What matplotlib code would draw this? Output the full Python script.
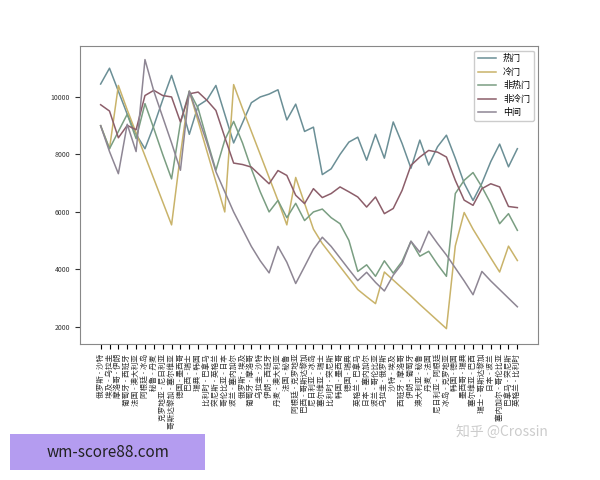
import matplotlib
matplotlib.use("Agg")
import matplotlib.pyplot as plt
from matplotlib.patches import Rectangle

plt.rcParams['font.family'] = ['Noto Sans CJK SC', 'DejaVu Sans']

matches = ["俄罗斯 - 沙特", "埃及 - 乌拉圭", "摩洛哥 - 伊朗", "葡萄牙 - 西班牙", "法国 - 澳大利亚", "阿根廷 - 冰岛",
           "秘鲁 - 丹麦", "克罗地亚 - 尼日利亚", "哥斯达黎加 - 塞尔维亚", "德国 - 墨西哥", "巴西 - 瑞士", "瑞典 - 韩国",
           "比利时 - 巴拿马", "突尼斯 - 英格兰", "哥伦比亚 - 日本", "波兰 - 塞内加尔", "俄罗斯 - 埃及", "葡萄牙 - 摩洛哥",
           "乌拉圭 - 沙特", "伊朗 - 西班牙", "丹麦 - 澳大利亚", "法国 - 秘鲁", "阿根廷 - 克罗地亚", "巴西 - 哥斯达黎加",
           "尼日利亚 - 冰岛", "塞尔维亚 - 瑞士", "比利时 - 突尼斯", "韩国 - 墨西哥", "德国 - 瑞典", "英格兰 - 巴拿马",
           "日本 - 塞内加尔", "波兰 - 哥伦比亚", "乌拉圭 - 俄罗斯", "沙特 - 埃及", "西班牙 - 摩洛哥", "伊朗 - 葡萄牙",
           "澳大利亚 - 秘鲁", "丹麦 - 法国", "尼日利亚 - 阿根廷", "冰岛 - 克罗地亚", "韩国 - 德国", "墨西哥 - 瑞典",
           "塞尔维亚 - 巴西", "瑞士 - 哥斯达黎加", "日本 - 波兰", "塞内加尔 - 哥伦比亚", "巴拿马 - 突尼斯", "英格兰 - 比利时"]

hot = [10450, 11000, 10200, 9400, 8700, 8200, 9000, 9900, 10750, 9800, 8700, 9700, 9900, 10400, 9400, 8400,
       9100, 9800, 10000, 10100, 10250, 9200, 9750, 8800, 8950, 7300, 7500, 8000, 8430, 8600, 7800, 8700,
       7870, 9130, 8380, 7520, 8500, 7630, 8270, 8670, 7870, 7000, 6400, 7000, 7750, 8360, 7570, 8200]
cold = [9000, 8200, 10400, 9550, 8750, 7950, 7150, 6350, 5550, 8000, 10200, 9150, 8100, 7050, 6000, 10430,
        9600, 8800, 8000, 7200, 6400, 5550, 7200, 6300, 5400, 4900, 4500, 4100, 3700, 3300, 3050, 2810,
        3910, 3630, 3350, 3070, 2780, 2500, 2220, 1940, 4820, 5980, 5400, 4900, 4400, 3910, 4810, 4310]
non_hot = [9000, 8200, 8800, 9400, 8550, 9770, 8900, 8000, 7150, 9100, 10200, 9600, 8500, 7450, 8500, 9150,
           8400, 7500, 6700, 6000, 6400, 5800, 6300, 5700, 6000, 6100, 5800, 5590, 5010, 3930, 4160, 3760,
           4300, 3870, 4280, 4980, 4460, 4630, 4170, 3760, 6640, 7100, 7370, 6870, 6290, 5590, 5940, 5360]
non_cold = [9730, 9510, 8580, 9010, 8860, 10050, 10230, 10050, 10000, 9130, 10110, 10170, 9880, 9530, 8600, 7700,
            7650, 7560, 7270, 6980, 7440, 7270, 6580, 6290, 6810, 6500, 6640, 6870, 6700, 6520, 6170, 6520,
            5940, 6120, 6750, 7620, 7910, 8140, 8080, 7910, 7100, 6410, 6230, 6810, 6980, 6870, 6190, 6150]
middle = [9000, 8100, 7330, 9050, 8100, 11300, 10200, 9300, 8400, 7450, 10200, 9300, 8400, 7400, 6700, 6000,
          5400, 4800, 4300, 3880, 4800, 4250, 3510, 4100, 4700, 5120, 4800, 4400, 4000, 3610, 3900, 3550,
          3250, 3800, 4200, 4980, 4600, 5330, 4900, 4500, 4050, 3600, 3120, 3930, 3600, 3300, 3000, 2700]

series = [("热门", hot, "#6b8f96"), ("冷门", cold, "#c9b36a"), ("非热门", non_hot, "#7a9e82"),
          ("非冷门", non_cold, "#8c5e6a"), ("中间", middle, "#8e8694")]

fig = plt.figure(figsize=(6, 4.8), dpi=100)
ax = fig.add_axes([0.133, 0.283, 0.764, 0.621])
x = list(range(len(matches)))
for name, vals, c in series:
    ax.plot(x, vals, color=c, lw=1.1, label=name)
ax.set_xticks(x)
ax.set_xticklabels(matches, rotation=90, fontsize=5.5, color="#333333")
ax.set_yticks([2000, 4000, 6000, 8000, 10000])
ax.tick_params(axis='y', labelsize=5, colors="#333333")
ax.set_ylim(1400, 11770)
for s in ax.spines.values():
    s.set_color("#888888")
ax.legend(loc="upper right", fontsize=6.5, framealpha=1)

fig.text(0.76, 0.09, "知乎 @Crossin", fontsize=10, color="#cccccc")
fig.add_artist(Rectangle((0.017, 0.02), 0.325, 0.075, transform=fig.transFigure,
                         facecolor="#b49cf0", edgecolor="none"))
fig.text(0.18, 0.057, "wm-score88.com", fontsize=11, color="#222222", ha="center", va="center")
fig.savefig("out.png", dpi=100, facecolor="white")
